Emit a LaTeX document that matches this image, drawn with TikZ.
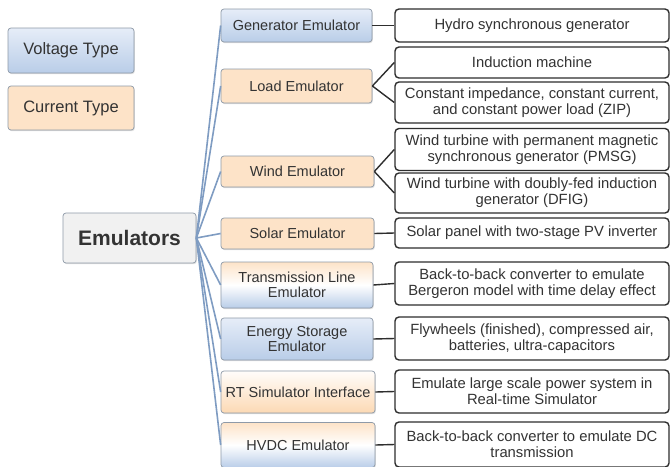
\documentclass[tikz,border=0pt]{standalone}
\usepackage{fontspec}
\setmainfont{Liberation Sans}
\usetikzlibrary{shadows}
\definecolor{txt}{HTML}{333333}
\definecolor{vtop}{HTML}{E6EDF8}
\definecolor{vbot}{HTML}{B9CDE8}
\definecolor{peach}{HTML}{FDE3C8}
\definecolor{peachdk}{HTML}{FCD9B4}
\definecolor{midborder}{HTML}{8E9AA8}
\definecolor{link}{HTML}{7F9CC2}
\definecolor{rborder}{HTML}{2E2E2E}
\definecolor{emufill}{HTML}{F1F1F1}
\begin{document}
\begin{tikzpicture}[x=1pt,y=-1pt,
  shad/.style={drop shadow={opacity=0.25,shadow xshift=0.8pt,shadow yshift=-1.2pt}},
  midbox/.style={draw=midborder, line width=0.7pt, rounded corners=3pt, minimum width=151pt,
     inner sep=0pt, align=center, text=txt, font=\fontsize{14.5}{15.5}\selectfont, shad},
  volt/.style={midbox, top color=vtop, bottom color=vbot},
  curr/.style={midbox, fill=peach},
  tl/.style={midbox, top color=peach, bottom color=vbot, middle color=white},
  rt/.style={midbox, top color=white!92!peach, bottom color=peachdk},
  rbox/.style={draw=rborder, line width=1.4pt, rounded corners=4pt, minimum width=274pt,
     inner sep=0pt, align=center, text=txt, font=\fontsize{14.8}{16.2}\selectfont},
  blink/.style={draw=link, line width=1.6pt},
  klink/.style={draw=rborder, line width=1.4pt}]
\useasboundingbox (0,0) rectangle (671,466);
\fill[white] (0,0) rectangle (671,466);

% legend
\node[volt, minimum width=126pt, minimum height=45pt, font=\fontsize{16.5}{18}\selectfont] (lv) at (71,50.5) {Voltage Type};
\node[curr, minimum width=126pt, minimum height=44pt, font=\fontsize{16.5}{18}\selectfont] (lc) at (71,108) {Current Type};

% root
\node[midbox, fill=emufill, minimum width=133pt, minimum height=50pt, font=\fontsize{21}{24}\selectfont\bfseries] (emu) at (129.5,238) {Emulators};

% middle
\node[volt, minimum height=33pt] (gen) at (296.5,25.5) {Generator Emulator};
\node[curr, minimum height=34pt] (load) at (296.5,86) {Load Emulator};
\node[curr, minimum height=31pt, minimum width=153pt] (wind) at (297.5,171.5) {Wind Emulator};
\node[curr, minimum height=31pt, minimum width=153pt] (solar) at (297.5,233.5) {Solar Emulator};
\node[tl, minimum height=46pt, minimum width=152pt] (trans) at (297,285) {Transmission Line\\Emulator};
\node[volt, minimum height=42pt, minimum width=152pt] (ess) at (297,339) {Energy Storage\\Emulator};
\node[rt, minimum height=42pt, minimum width=154pt] (rtsim) at (298,392) {RT Simulator Interface};
\node[tl, minimum height=45pt, minimum width=154pt] (hvdc) at (298,445) {HVDC Emulator};

% right
\node[rbox, minimum height=33pt] (r1) at (532,25.5) {Hydro synchronous generator};
\node[rbox, minimum height=31pt] (r2) at (532,62.5) {Induction machine};
\node[rbox, minimum height=41pt] (r3) at (532,102.5) {Constant impedance, constant current,\\and constant power load (ZIP)};
\node[rbox, minimum height=42pt] (r4) at (532,149.5) {Wind turbine with permanent magnetic\\synchronous generator (PMSG)};
\node[rbox, minimum height=40pt] (r5) at (532,193) {Wind turbine with doubly-fed induction\\generator (DFIG)};
\node[rbox, minimum height=30pt] (r6) at (532,233) {Solar panel with two-stage PV inverter};
\node[rbox, minimum height=43pt] (r7) at (532,283.5) {Back-to-back converter to emulate\\Bergeron model with time delay effect};
\node[rbox, minimum height=43pt] (r8) at (532,338.5) {Flywheels (finished), compressed air,\\batteries, ultra-capacitors};
\node[rbox, minimum height=43pt] (r9) at (532,391.5) {Emulate large scale power system in\\Real-time Simulator};
\node[rbox, minimum height=45pt] (r10) at (532,444.5) {Back-to-back converter to emulate DC\\transmission};

% blue links
\foreach \m in {gen,load,wind,solar,trans,ess,rtsim,hvdc}
  \draw[blink] (emu.east) -- (\m.west);

% black links
\draw[klink] (gen.east) -- (r1.west);
\draw[klink] (load.east) -- (r2.west);
\draw[klink] (load.east) -- (r3.west);
\draw[klink] (wind.east) -- (r4.west);
\draw[klink] (wind.east) -- (r5.west);
\draw[klink] (solar.east) -- (r6.west);
\draw[klink] (trans.east) -- (r7.west);
\draw[klink] (ess.east) -- (r8.west);
\draw[klink] (rtsim.east) -- (r9.west);
\draw[klink] (hvdc.east) -- (r10.west);
\end{tikzpicture}
\end{document}
